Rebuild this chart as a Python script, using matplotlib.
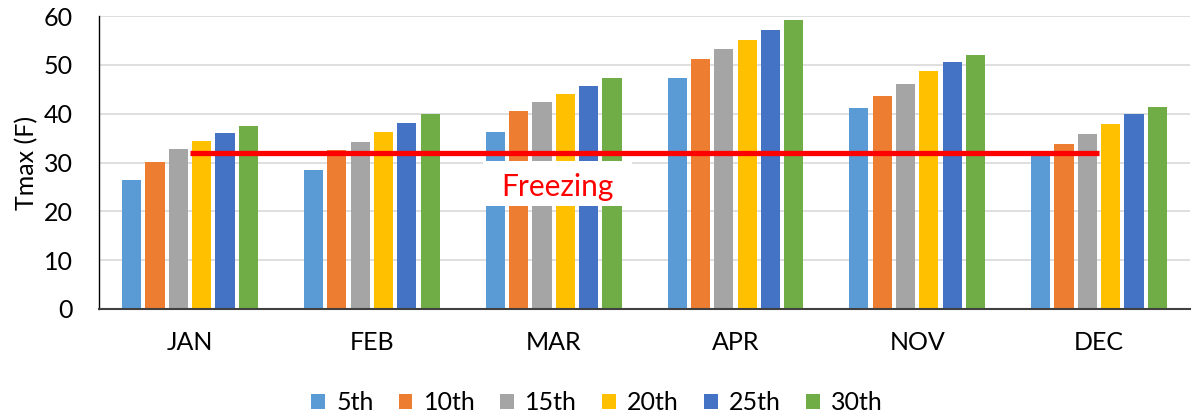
import matplotlib
matplotlib.use("Agg")
import matplotlib.pyplot as plt
from matplotlib.patches import Rectangle
import numpy as np

months = ["JAN", "FEB", "MAR", "APR", "NOV", "DEC"]
series_names = ["5th", "10th", "15th", "20th", "25th", "30th"]
p5 = [26.4, 28.4, 36.2, 47.3, 41.1, 31.6]
p10 = [30.2, 32.6, 40.5, 51.2, 43.6, 33.8]
p15 = [32.8, 34.3, 42.3, 53.2, 46.1, 35.8]
p20 = [34.4, 36.2, 44.0, 55.1, 48.7, 37.9]
p25 = [36.0, 38.0, 45.7, 57.1, 50.6, 40.0]
p30 = [37.5, 39.9, 47.4, 59.2, 52.0, 41.3]
freezing = 32
colors = ["#5B9BD5", "#ED7D31", "#A5A5A5", "#FFC000", "#4472C4", "#70AD47"]

plt.rcParams['font.family'] = ['Lato', 'DejaVu Sans']

fig = plt.figure(figsize=(11.94, 4.17), dpi=100)
ax = fig.add_axes([0.083, 0.259, 0.9136, 0.7026])

x = np.arange(len(months))
group_w = 0.77
slot = group_w / 6
for i, (vals, name, c) in enumerate(zip([p5, p10, p15, p20, p25, p30], series_names, colors)):
    ax.bar(x - group_w / 2 + slot * (i + 0.5), vals, width=slot * 0.82,
           color=c, label=name, zorder=2)

ax.plot([x[0], x[-1]], [freezing, freezing], color="#FF0000", lw=3.8,
        solid_capstyle="butt", zorder=4)
# white label panel for the freezing line
ax.add_patch(Rectangle((1.613, 21.1), 0.82, 9.2, facecolor="white",
                       edgecolor="none", zorder=4))
ax.text(2.02, 25.0, "Freezing", color="#FF0000", fontsize=21.5, ha="center",
        va="center", zorder=5)

ax.set_xlim(-0.5, 5.5)
ax.set_ylim(0, 60)
ax.set_yticks(range(0, 61, 10))
ax.set_xticks(x)
ax.set_xticklabels(months)
ax.tick_params(axis="both", length=0, labelsize=18, colors="#000000")
ax.tick_params(axis="x", pad=16)
ax.tick_params(axis="y", pad=19)
ax.grid(axis="y", color="#D9D9D9", lw=1.2, zorder=0)
ax.set_axisbelow(True)
for s in ["top", "right"]:
    ax.spines[s].set_visible(False)
ax.spines["left"].set_color("#000000")
ax.spines["left"].set_linewidth(1.0)
ax.spines["bottom"].set_color("#404040")
ax.spines["bottom"].set_linewidth(1.5)
ax.set_ylabel("Tmax (F)", fontsize=18, labelpad=4)

fig.legend(loc="center", bbox_to_anchor=(0.5, 0.034), ncol=6, frameon=False,
           fontsize=18, handlelength=0.55, handleheight=0.55, handletextpad=0.45,
           columnspacing=1.0)

fig.savefig("out.png", dpi=100)
